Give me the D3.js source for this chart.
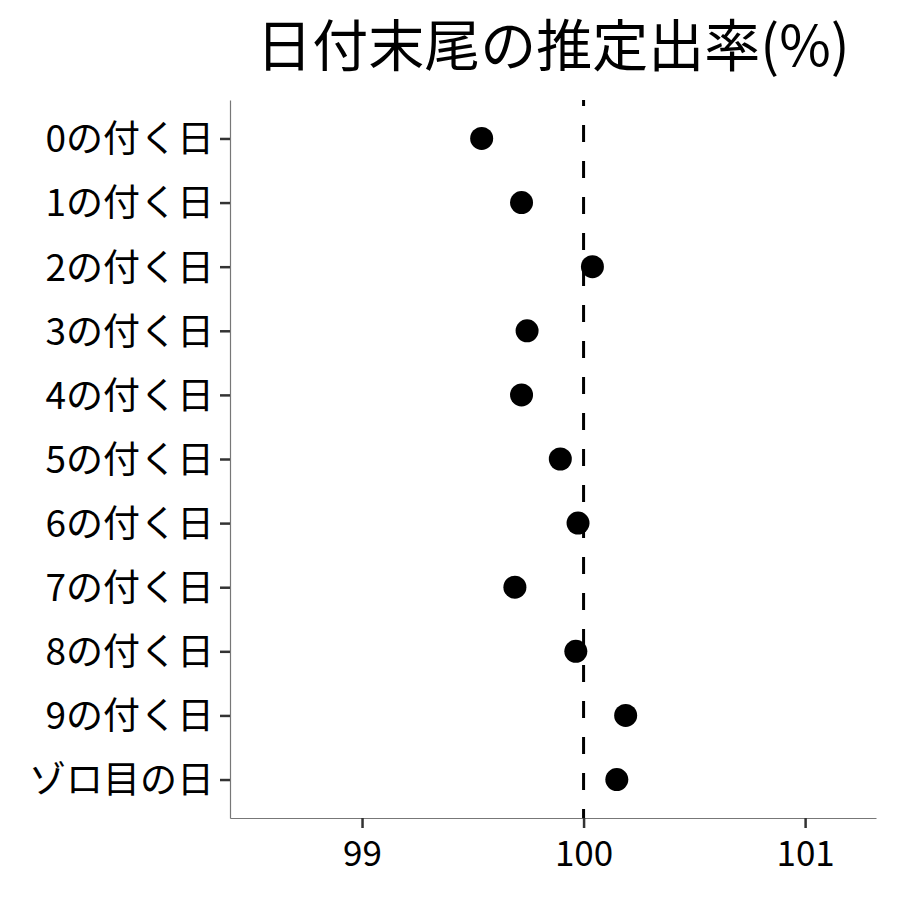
<!DOCTYPE html>
<html>
<head>
<meta charset="utf-8">
<script src="https://cdn.jsdelivr.net/npm/d3@7"></script>
<style>
  body { margin: 0; background: #fff; }
  text { font-family: "Noto Sans CJK JP", "Noto Sans", sans-serif; }
</style>
</head>
<body>
<script>
// data
var categories = ["0の付く日", "1の付く日", "2の付く日", "3の付く日", "4の付く日",
  "5の付く日", "6の付く日", "7の付く日", "8の付く日", "9の付く日", "ゾロ目の日"];
var rates = [99.54, 99.72, 100.04, 99.745, 99.72, 99.895, 99.975, 99.69, 99.965, 100.19, 100.15];
var xTicks = [99, 100, 101];
var refValue = 100;

// margin
var margin = {top: 100, right: 24, bottom: 82, left: 230},
    width = 900 - margin.left - margin.right,
    height = 900 - margin.top - margin.bottom;

var svg = d3.select("body").append("svg")
    .attr("width", 900)
    .attr("height", 900);

var g = svg.append("g")
    .attr("transform", "translate(" + margin.left + "," + margin.top + ")");

var x = d3.scaleLinear()
    .domain([98.404, 101.32])
    .range([0, width]);

var y = d3.scalePoint()
    .domain(categories)
    .range([0, height])
    .padding(0.6);

// title
svg.append("text")
    .attr("x", margin.left + width / 2)
    .attr("y", 66)
    .attr("text-anchor", "middle")
    .style("font-size", "56px")
    .text("日付末尾の推定出率(%)");

// x axis
var xAxis = g.append("g")
    .attr("transform", "translate(0," + height + ")")
    .call(d3.axisBottom(x).tickValues(xTicks).tickFormat(d3.format("d"))
      .tickSizeInner(10).tickSizeOuter(0).tickPadding(6));

// y axis
var yAxis = g.append("g")
    .call(d3.axisLeft(y).tickSizeInner(10).tickSizeOuter(0).tickPadding(6));

[xAxis, yAxis].forEach(function(ax) {
  ax.select(".domain").attr("stroke", "#777").attr("stroke-width", 1.2);
  ax.selectAll(".tick line").attr("stroke", "#333").attr("stroke-width", 2.5);
  ax.selectAll(".tick text").attr("fill", "#000").style("font-size", "35px");
});
xAxis.selectAll(".tick text").attr("dy", "0.9em");
yAxis.selectAll(".tick text").attr("dy", "0.36em").style("font-size", "37px");

// reference line
g.append("line")
    .attr("x1", x(refValue))
    .attr("x2", x(refValue))
    .attr("y1", 0)
    .attr("y2", height)
    .attr("stroke", "#000")
    .attr("stroke-width", 3)
    .attr("stroke-dasharray", "17,19")
    .attr("stroke-dashoffset", 11);

// points
g.selectAll(".dot")
    .data(categories)
  .enter().append("circle")
    .attr("class", "dot")
    .attr("cx", (d, i) => x(rates[i]))
    .attr("cy", d => y(d))
    .attr("r", 11.5)
    .attr("fill", "#000");
</script>
</body>
</html>
